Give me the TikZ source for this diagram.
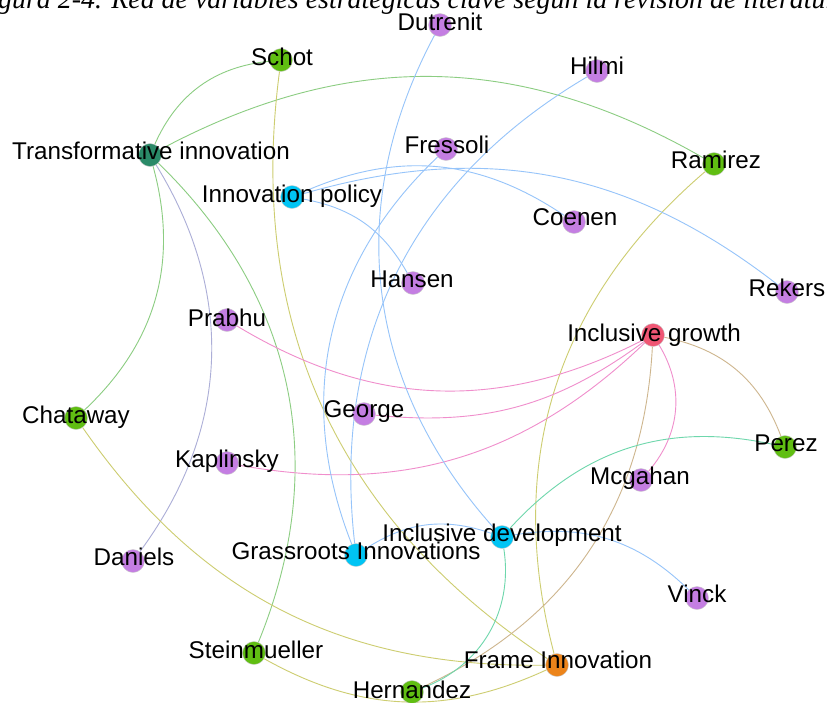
\documentclass[tikz,border=0pt]{standalone}
\usepackage{fontspec}
\setmainfont{Liberation Sans}
\newfontfamily\capfont{Liberation Serif}
\usepackage{tikz}
\usetikzlibrary{backgrounds}
\definecolor{vpurple}{RGB}{196,126,226}
\definecolor{vgreen}{RGB}{96,190,18}
\definecolor{vteal}{RGB}{42,138,104}
\definecolor{vcyan}{RGB}{0,196,244}
\definecolor{vred}{RGB}{240,86,116}
\definecolor{vorange}{RGB}{236,132,26}
\definecolor{egreen}{RGB}{140,205,130}
\definecolor{elav}{RGB}{172,174,215}
\definecolor{eolive}{RGB}{205,205,112}
\definecolor{etan}{RGB}{206,182,142}
\definecolor{epink}{RGB}{240,142,204}
\definecolor{eblue}{RGB}{150,196,250}
\definecolor{emint}{RGB}{110,215,172}

\begin{document}
\begin{tikzpicture}[x=1pt,y=-1pt,
		vertex/.style={circle,inner sep=0pt,minimum size=23pt,draw=black!20,line width=0.4pt},
		lbl/.style={anchor=base,inner sep=0pt,font=\fontsize{24.2}{24.2}\selectfont},
		link/.style={line width=0.9pt}
		]
		\path[use as bounding box] (0,0) rectangle (827,702);
		\clip (0,0) rectangle (827,702);
		\node[vertex,fill=vpurple] (dutrenit) at (440,25) {};
		\node[vertex,fill=vgreen] (schot) at (281,60) {};
		\node[vertex,fill=vpurple] (hilmi) at (597,71) {};
		\node[vertex,fill=vteal] (transf) at (150,155) {};
		\node[vertex,fill=vpurple] (fressoli) at (446,149) {};
		\node[vertex,fill=vgreen] (ramirez) at (714,164) {};
		\node[vertex,fill=vcyan] (innpol) at (292,197) {};
		\node[vertex,fill=vpurple] (coenen) at (574,222) {};
		\node[vertex,fill=vpurple] (hansen) at (413,283) {};
		\node[vertex,fill=vpurple] (rekers) at (787,292) {};
		\node[vertex,fill=vpurple] (prabhu) at (227,320) {};
		\node[vertex,fill=vred] (incgrowth) at (653,335) {};
		\node[vertex,fill=vpurple] (george) at (364,414) {};
		\node[vertex,fill=vgreen] (chataway) at (76,418) {};
		\node[vertex,fill=vgreen] (perez) at (785,447) {};
		\node[vertex,fill=vpurple] (kaplinsky) at (227,463) {};
		\node[vertex,fill=vpurple] (mcgahan) at (641,480) {};
		\node[vertex,fill=vcyan] (incdev) at (502,537) {};
		\node[vertex,fill=vcyan] (grass) at (356,555) {};
		\node[vertex,fill=vpurple] (daniels) at (133,561) {};
		\node[vertex,fill=vpurple] (vinck) at (697,598) {};
		\node[vertex,fill=vgreen] (steinm) at (254,653) {};
		\node[vertex,fill=vorange] (frame) at (557,665) {};
		\node[vertex,fill=vgreen] (hernandez) at (412,692) {};
		\begin{scope}[on background layer]
			\fill[white] (0,0) rectangle (827,702);
			\draw[link,egreen] (transf) to[bend left=30] (schot);
			\draw[link,egreen] (transf) to[bend left=29] (ramirez);
			\draw[link,egreen] (transf) to[bend left=31] (chataway);
			\draw[link,elav] (transf) to[bend left=34] (daniels);
			\draw[link,egreen] (transf) to[bend left=34] (steinm);
			\draw[link,eolive] (schot) to[bend right=32] (frame);
			\draw[link,eolive] (chataway) to[bend right=28] (frame);
			\draw[link,eolive] (steinm) to[bend right=27] (frame);
			\draw[link,eolive] (ramirez) to[bend right=32] (frame);
			\draw[link,etan] (incgrowth) to[bend left=31] (hernandez);
			\draw[link,etan] (incgrowth) to[bend left=29] (perez);
			\draw[link,epink] (incgrowth) to[bend left=36] (mcgahan);
			\draw[link,epink] (incgrowth) to[bend left=29] (prabhu);
			\draw[link,epink] (incgrowth) to[bend left=21] (george);
			\draw[link,epink] (incgrowth) to[bend left=27] (kaplinsky);
			\draw[link,eblue] (innpol) to[bend left=29] (coenen);
			\draw[link,eblue] (innpol) to[bend left=27] (rekers);
			\draw[link,eblue] (innpol) to[bend left=25] (hansen);
			\draw[link,eblue] (dutrenit) to[bend right=35] (incdev);
			\draw[link,eblue] (hilmi) to[bend right=33] (grass);
			\draw[link,eblue] (fressoli) to[bend right=34] (grass);
			\draw[link,eblue] (grass) to[bend left=26] (incdev);
			\draw[link,eblue] (incdev) to[bend left=27] (vinck);
			\draw[link,emint] (incdev) to[bend left=30] (perez);
			\draw[link,emint] (incdev) to[bend left=39] (hernandez);
		\end{scope}
		\node[anchor=base west,inner sep=0pt,font=\capfont\itshape\fontsize{27.9}{27.9}\selectfont] (caption) at (-2,8) {gura 2-4. Red de variables estratégicas clave según la revisión de literatura};
		\node[lbl] (dutrenit-txt) at (440,30) {Dutrenit};
		\node[lbl] (schot-txt) at (282,65) {Schot};
		\node[lbl] (hilmi-txt) at (597,74) {Hilmi};
		\node[lbl] (transf-txt) at (151,159) {Transformative innovation};
		\node[lbl] (fressoli-txt) at (447,153) {Fressoli};
		\node[lbl] (ramirez-txt) at (716,168) {Ramirez};
		\node[lbl] (innpol-txt) at (292,202) {Innovation policy};
		\node[lbl] (coenen-txt) at (575,225) {Coenen};
		\node[lbl] (hansen-txt) at (412,287) {Hansen};
		\node[lbl] (rekers-txt) at (787,296) {Rekers};
		\node[lbl] (prabhu-txt) at (227,326) {Prabhu};
		\node[lbl] (incgrowth-txt) at (654,341) {Inclusive growth};
		\node[lbl] (george-txt) at (364,417) {George};
		\node[lbl] (chataway-txt) at (76,423) {Chataway};
		\node[lbl] (perez-txt) at (786,451) {Perez};
		\node[lbl] (kaplinsky-txt) at (227,467) {Kaplinsky};
		\node[lbl] (mcgahan-txt) at (640,484) {Mcgahan};
		\node[lbl] (incdev-txt) at (502,541) {Inclusive development};
		\node[lbl] (grass-txt) at (356,559) {Grassroots Innovations};
		\node[lbl] (daniels-txt) at (134,565) {Daniels};
		\node[lbl] (vinck-txt) at (697,602) {Vinck};
		\node[lbl] (steinm-txt) at (256,658) {Steinmueller};
		\node[lbl] (frame-txt) at (558,668) {Frame Innovation};
		\node[lbl] (hernandez-txt) at (412,698) {Hernandez};
\end{tikzpicture}
\end{document}
